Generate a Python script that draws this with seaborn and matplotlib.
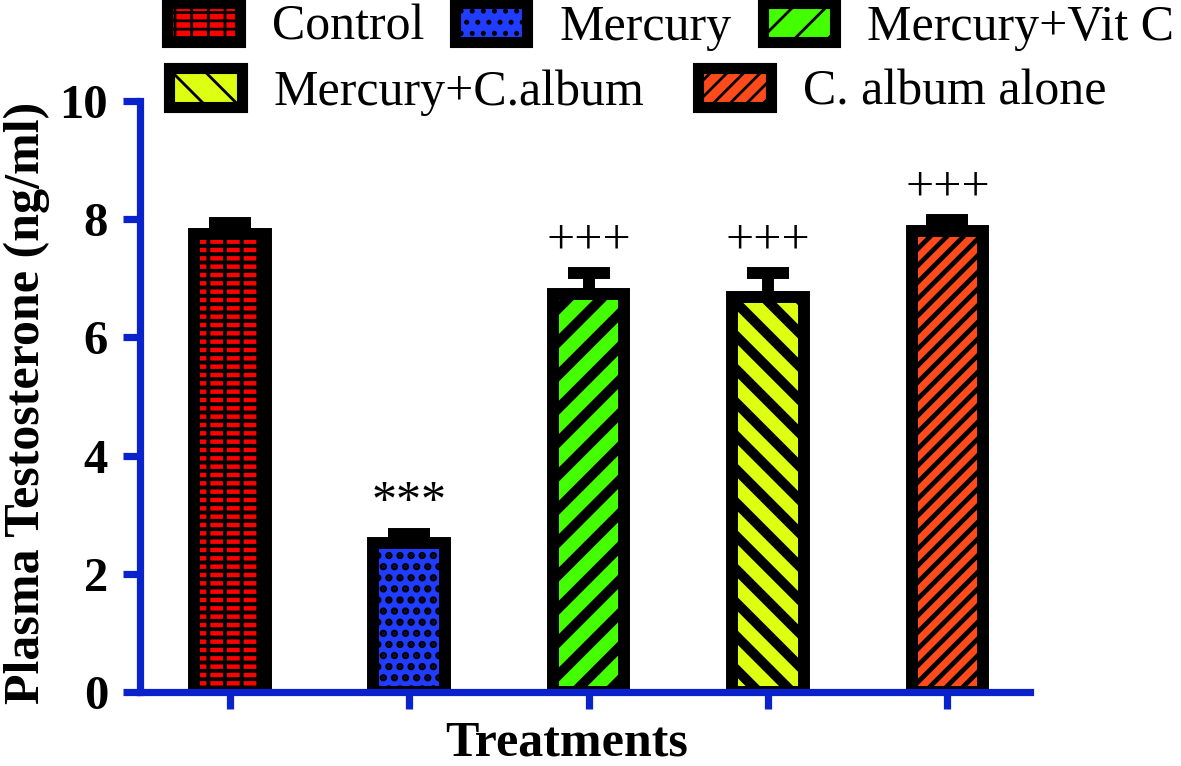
import matplotlib
matplotlib.use("Agg")
import matplotlib.pyplot as plt
import seaborn as sns
import numpy as np
import pandas as pd
from matplotlib.patches import Patch

# ---- data ----
categories = ["Control", "Mercury", "Mercury+Vit C", "Mercury+C.album", "C. album alone"]
means = [7.75, 2.52, 6.73, 6.68, 7.80]
sems = [0.19, 0.16, 0.36, 0.41, 0.19]
annotations = ["", "***", "+++", "+++", "+++"]
yticks = [0, 2, 4, 6, 8, 10]

colors = ["#FF0000", "#1F3CFF", "#44FF00", "#DDFF11", "#FF4A1C"]
hatches = ["----||", "...", "//", "\\\\", "////"]
hatch_lws = [1.4, 1.8, 3.6, 3.6, 1.7]

sns.set_theme(style="white")
plt.rcParams["font.family"] = ["Liberation Serif", "DejaVu Serif"]
plt.rcParams["hatch.color"] = "black"
plt.rcParams["text.color"] = "black"
plt.rcParams["axes.labelcolor"] = "black"
plt.rcParams["ytick.color"] = "black"
plt.rcParams["xtick.color"] = "black"

DPI = 200
fig = plt.figure(figsize=(1181 / DPI, 766 / DPI), dpi=DPI)
ax = fig.add_axes([140 / 1181, 1 - 692 / 766, 890 / 1181, 591 / 766])

df = pd.DataFrame({"Treatment": categories, "Value": means})
sns.barplot(data=df, x="Treatment", y="Value", hue="Treatment",
            palette=dict(zip(categories, colors)), order=categories,
            hue_order=categories, width=0.40, edgecolor="black",
            linewidth=4.3, errorbar=None, legend=False, ax=ax, zorder=2,
            saturation=1)

bars = list(ax.patches)
for p, h, hl in zip(bars, hatches, hatch_lws):
    p.set_hatch(h)
    if hasattr(p, "set_hatch_linewidth"):
        p.set_hatch_linewidth(hl)

xpos = np.arange(len(categories))
ax.errorbar(xpos, means, yerr=[np.zeros(len(sems)), sems], fmt="none",
            ecolor="black", elinewidth=4.3, capsize=7.5, capthick=4.3, zorder=1)

for x, m, s, a in zip(xpos, means, sems, annotations):
    if a:
        ax.text(x, m + s + 0.53, a, ha="center", va="center", fontsize=18,
                color="black")

blue = "#0A22CC"
ax.set_xlim(-0.5, 4.46)
ax.set_ylim(0, 10)
ax.set_yticks(yticks)
ax.set_yticklabels([str(t) for t in yticks], fontsize=17.5, fontweight="bold")
ax.set_xticks(xpos)
ax.set_xticklabels([])
for side in ["top", "right"]:
    ax.spines[side].set_visible(False)
for side in ["left", "bottom"]:
    ax.spines[side].set_color(blue)
    ax.spines[side].set_linewidth(2.6)
ax.tick_params(axis="both", which="major", direction="out", length=6.0,
               width=2.6, color=blue, labelcolor="black")
ax.tick_params(axis="y", pad=5.5, left=True)
ax.tick_params(axis="x", bottom=True)

ax.set_xlabel("Treatments", fontsize=18, fontweight="bold")
ax.set_ylabel("Plasma Testosterone (ng/ml)", fontsize=18, fontweight="bold")
ax.xaxis.set_label_coords((567 - 140) / 890, (692 - 721) / 591)
ax.yaxis.set_label_coords((50 - 140) / 890, 0.49)

def handle(i):
    hp = Patch(facecolor=colors[i], edgecolor="black", hatch=hatches[i],
               linewidth=4.0)
    if hasattr(hp, "set_hatch_linewidth"):
        hp.set_hatch_linewidth(hatch_lws[i])
    return hp

leg1 = fig.legend(handles=[handle(i) for i in range(3)], labels=categories[:3],
                  loc="upper left", bbox_to_anchor=(167 / 1181, 1 - 3 / 766),
                  ncol=3, frameon=False, fontsize=18, handlelength=1.45,
                  handleheight=0.82, handletextpad=0.64, columnspacing=0.62,
                  borderpad=0, borderaxespad=0)
leg2 = fig.legend(handles=[handle(i) for i in range(3, 5)], labels=categories[3:],
                  loc="upper left", bbox_to_anchor=(169 / 1181, 1 - 68 / 766),
                  ncol=2, frameon=False, fontsize=18, handlelength=1.45,
                  handleheight=0.82, handletextpad=0.64, columnspacing=1.08,
                  borderpad=0, borderaxespad=0)

fig.savefig("out.png", dpi=DPI)
